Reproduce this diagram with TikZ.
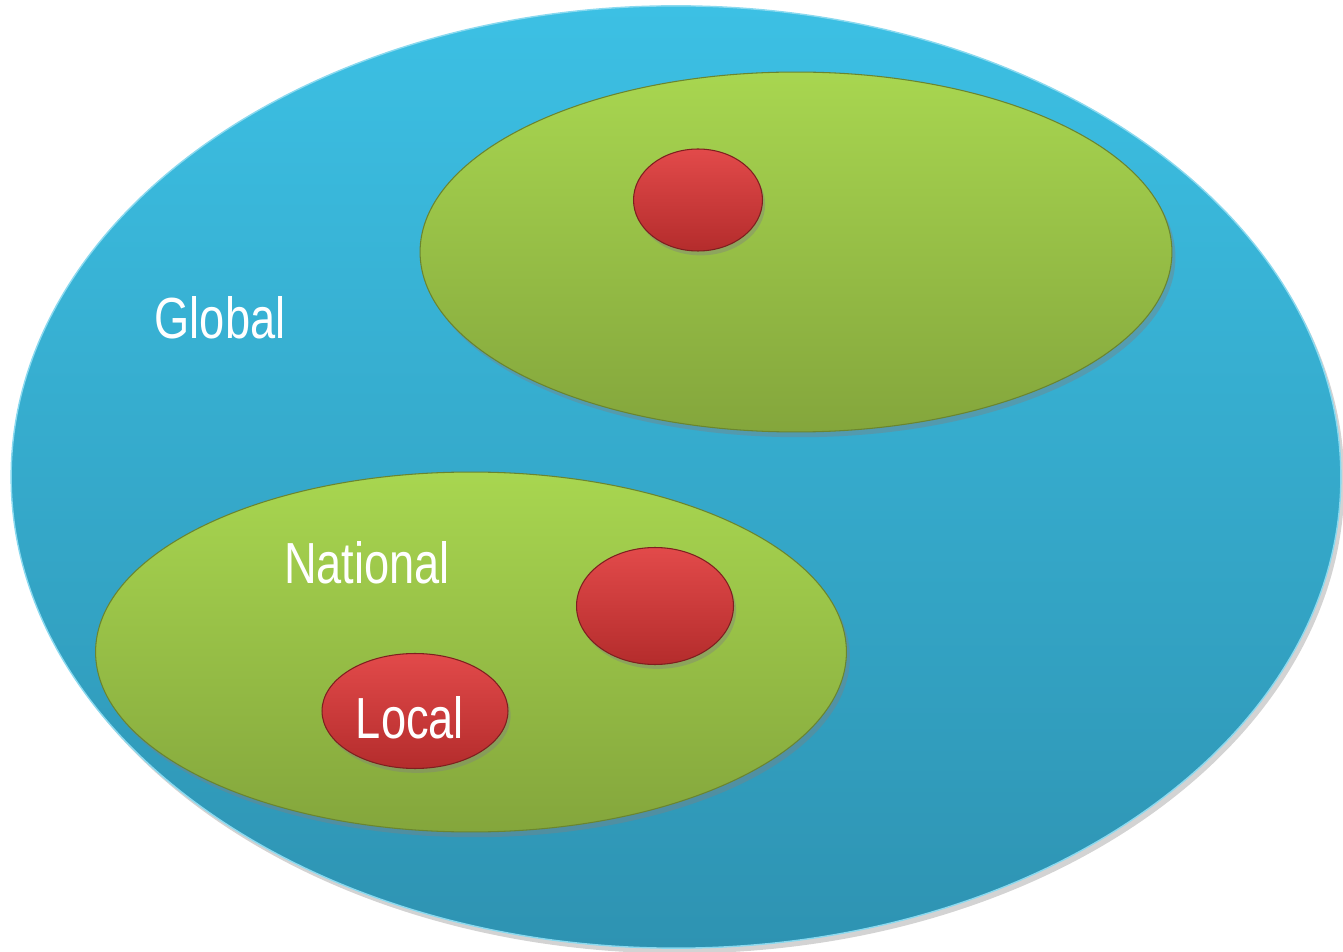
\documentclass[tikz,border=0pt]{standalone}
\usepackage{fontspec}
\setmainfont{Liberation Sans}[FakeStretch=0.78]
\usetikzlibrary{shapes.geometric,shadows}

\definecolor{globtop}{HTML}{3CC0E4}
\definecolor{globbot}{HTML}{2E93B2}
\definecolor{nattop}{HTML}{A8D650}
\definecolor{natbot}{HTML}{84A63C}
\definecolor{loctop}{HTML}{E24A4A}
\definecolor{locbot}{HTML}{B42C2C}

\tikzset{
  globe/.style={ellipse, inner sep=0pt, top color=globtop, bottom color=globbot,
    draw=globtop!60!white, line width=0.8pt,
    drop shadow={opacity=0.35, shadow xshift=2pt, shadow yshift=-3pt}},
  nation/.style={ellipse, inner sep=0pt, top color=nattop, bottom color=natbot,
    draw=natbot!80!black, line width=0.6pt,
    drop shadow={opacity=0.4, shadow xshift=2pt, shadow yshift=-3pt}},
  locality/.style={ellipse, inner sep=0pt, top color=loctop, bottom color=locbot,
    draw=locbot!70!black, line width=0.6pt,
    drop shadow={opacity=0.4, shadow xshift=1.5pt, shadow yshift=-2.5pt}},
  lbl/.style={text=white, font=\fontsize{33}{36}\selectfont}
}

\begin{document}
\begin{tikzpicture}[x=0.02cm, y=-0.02cm]
  \useasboundingbox (0,0) rectangle (1343,952);
  \path
  % outer level
  (676, 477) node[globe, minimum width=26.6cm, minimum height=18.85cm] (global) {}
  % national levels
  (796, 252) node[nation, minimum width=15.04cm, minimum height=7.2cm] (nat1) {}
  (471, 652) node[nation, minimum width=15.02cm, minimum height=7.2cm] (nat2) {}
  % local levels
  (698, 200) node[locality, minimum width=2.58cm, minimum height=2.04cm] (loc1) {}
  (655, 606) node[locality, minimum width=3.14cm, minimum height=2.34cm] (loc2) {}
  (415, 711) node[locality, minimum width=3.72cm, minimum height=2.3cm] (local) {};
  % labels
  \node[lbl] (globtxt) at (220, 318) {Global};
  \node[lbl] (nattxt) at (367, 563) {National};
  \node[lbl] (loctxt) at (410, 718) {Local};
\end{tikzpicture}
\end{document}
